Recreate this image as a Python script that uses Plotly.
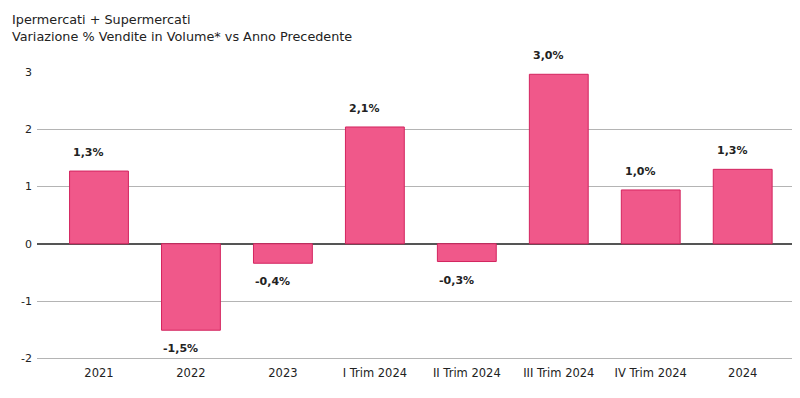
import plotly.graph_objects as go

categories = ["2021", "2022", "2023", "I Trim 2024", "II Trim 2024", "III Trim 2024", "IV Trim 2024", "2024"]
values = [1.27, -1.51, -0.34, 2.04, -0.31, 2.96, 0.94, 1.30]
labels = ["1,3%", "-1,5%", "-0,4%", "2,1%", "-0,3%", "3,0%", "1,0%", "1,3%"]
y_ticks = [-2, -1, 0, 1, 2, 3]
y_tick_text = ["-2", "-1", "0", "1", "2", "3"]

FONT = "DejaVu Sans, Verdana, sans-serif"

fig = go.Figure()
fig.add_trace(go.Bar(
    x=list(range(len(categories))),
    y=values,
    width=0.64,
    marker=dict(color="#f0588a", line=dict(color="#d3245f", width=1)),
    hoverinfo="skip",
))

for i, (v, t) in enumerate(zip(values, labels)):
    fig.add_annotation(
        x=i, y=v, text="<b>" + t + "</b>", showarrow=False,
        xanchor="center", yanchor="bottom" if v >= 0 else "top",
        yshift=10 if v >= 0 else -10, xshift=-10,
        font=dict(family=FONT, size=11, color="#222"),
    )

fig.add_annotation(
    xref="paper", yref="paper", x=-0.0355, y=1.0, yshift=62, xanchor="left", yanchor="top",
    text="Ipermercati + Supermercati<br>Variazione % Vendite in Volume* vs Anno Precedente",
    showarrow=False, align="left",
    font=dict(family=FONT, size=12.8, color="#222"),
)

fig.update_layout(
    width=800, height=398,
    margin=dict(l=29, r=8, t=64, b=46),
    paper_bgcolor="white", plot_bgcolor="white",
    showlegend=False,
    xaxis=dict(
        range=[-0.674, 7.623],
        tickmode="array", tickvals=list(range(len(categories))), ticktext=categories,
        showgrid=False, zeroline=False, showline=False, ticks="",
        ticklabelstandoff=4,
        tickfont=dict(family=FONT, size=11.5, color="#222"),
    ),
    yaxis=dict(
        range=[-2.03, 3], tickmode="array", tickvals=y_ticks, ticktext=y_tick_text,
        showgrid=True, gridcolor="#b4b4b4", gridwidth=1,
        zeroline=True, zerolinecolor="#555555", zerolinewidth=1.5,
        showline=False, ticks="", ticklabelstandoff=4,
        tickfont=dict(family=FONT, size=11, color="#222"),
    ),
)

fig.write_html("out.html")
